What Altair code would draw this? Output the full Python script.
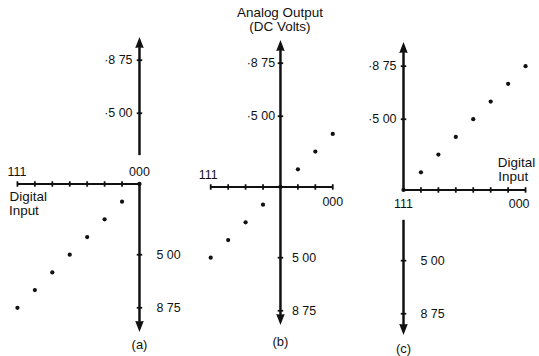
import altair as alt
import pandas as pd

# --- values -------------------------------------------------------------
codes = [0, 1, 2, 3, 4, 5, 6, 7]                      # 000 ... 111
volts_a = [0.0, -1.25, -2.50, -3.75, -5.00, -6.25, -7.50, -8.75]
volts_b = [3.75, 2.50, 1.25, 0.0, -1.25, -2.50, -3.75, -5.00]
volts_c = [8.75, 7.50, 6.25, 5.00, 3.75, 2.50, 1.25, 0.0]

tick_volts = [5.00, 8.75]
pos_tick_labels = ["·5 00", "·8 75"]
neg_tick_labels = ["5 00", "8 75"]
code_names = {0: "000", 7: "111"}
input_title = ["Digital", "Input"]
output_title = ["Analog Output", "(DC Volts)"]
panel_names = ["(a)", "(b)", "(c)"]

FONT = "Liberation Sans"
INK = "#111111"
PX_PER_CODE = 17.5
PX_PER_VOLT = 14.2
HEAD = 0.45  # arrow-head centre sits this far (in volts) inside the tip


def panel(volts, origin, x_dom, y_dom, width, segments, tips, texts):
    xs = alt.Scale(domain=x_dom, reverse=True, nice=False, zero=False)
    ys = alt.Scale(domain=y_dom, nice=False, zero=False)

    def X(f="c"):
        return alt.X(f"{f}:Q", scale=xs, axis=None)

    def Y(f="v"):
        return alt.Y(f"{f}:Q", scale=ys, axis=None)

    # axis lines: horizontal code axis plus the analog-output segments
    seg_rows = [{"c": 0, "v": 0, "c2": 7, "v2": 0, "w": 2.1}]
    for lo, hi in segments:
        seg_rows.append({"c": origin, "v": lo, "c2": origin, "v2": hi, "w": 2.5})
    lines = alt.Chart(pd.DataFrame(seg_rows)).mark_rule(color=INK).encode(
        x=X(), y=Y(), x2="c2:Q", y2="v2:Q",
        strokeWidth=alt.StrokeWidth("w:Q", scale=None),
    )

    # arrow heads at the open ends of the output axis
    head_rows = []
    for tip in tips:
        if tip > 0:
            head_rows.append({"c": origin, "v": tip - HEAD, "rot": 0})
        else:
            head_rows.append({"c": origin, "v": tip + HEAD, "rot": 180})
    heads = alt.Chart(pd.DataFrame(head_rows)).mark_point(
        shape="M0,-1L0.62,0.6L0,0.5L-0.62,0.6Z",
        filled=True, color=INK, size=190, opacity=1,
    ).encode(x=X(), y=Y(), angle=alt.Angle("rot:Q", scale=None))

    # tick marks on the code axis
    xt = pd.DataFrame({"c": [k for k in codes if k != origin], "v": 0.0})
    xticks = alt.Chart(xt).mark_point(
        shape="M0,-1L0,1", color=INK, strokeWidth=1.8, size=30, opacity=1,
    ).encode(x=X(), y=Y())

    # tick marks on the volt axis
    vt = pd.DataFrame({"c": origin, "v": tick_volts + [-t for t in tick_volts]})
    vticks = alt.Chart(vt).mark_point(
        shape="M-1,0L1,0", color=INK, strokeWidth=1.8, size=30, opacity=1,
    ).encode(x=X(), y=Y())

    # transfer-function points
    pts = pd.DataFrame({"c": codes, "v": volts})
    dots = alt.Chart(pts).mark_circle(color=INK, size=18, opacity=1).encode(
        x=X(), y=Y()
    )

    layers = [lines, heads, xticks, vticks, dots]
    for align in ["left", "center", "right"]:
        rows = [t for t in texts if t["align"] == align]
        if not rows:
            continue
        layers.append(
            alt.Chart(pd.DataFrame(rows)).mark_text(
                align=align, baseline="middle", font=FONT, color=INK,
            ).encode(
                x=X(), y=Y(), text="t:N",
                size=alt.Size("fs:Q", scale=None),
            )
        )
    return alt.layer(*layers).properties(width=width, height=356)


def txt(t, c, v, align="center", fs=12.5):
    return {"t": t, "c": c, "v": v, "align": align, "fs": fs}


def dom(origin_px, width, origin_py, height=356):
    """Scale domains for a panel whose code 000 sits at origin_px and 0 V at origin_py."""
    x_dom = [(origin_px - width) / PX_PER_CODE, origin_px / PX_PER_CODE]
    y_dom = [-(height - origin_py) / PX_PER_VOLT, origin_py / PX_PER_VOLT]
    return x_dom, y_dom


def vlabels(c_pos, align_pos, c_neg):
    out = []
    for t, lab in zip(tick_volts, pos_tick_labels):
        out.append(txt(lab, c_pos, t, align_pos))
    for t, lab in zip(tick_volts, neg_tick_labels):
        out.append(txt(lab, c_neg, -t, "left"))
    return out


# (a) output goes negative, code axis runs to the left
xa, ya = dom(140, 180, 184)
pa = panel(
    volts_a, 0, xa, ya, 180,
    segments=[(2.04, 10.35 - HEAD), (0.0, -10.42 + HEAD)],
    tips=[10.35, -10.42],
    texts=vlabels(0.4, "right", -0.97) + [
        txt(code_names[7], 7.03, 0.85),
        txt(code_names[0], 0.0, 0.85),
        txt(input_title[0], 6.38, -0.92, fs=13.5),
        txt(input_title[1], 6.63, -1.90, fs=13.5),
        txt(panel_names[0], 0.0, -11.41, fs=13),
    ],
)

# (b) offset output, zero volts at code 011
xb, yb = dom(152, 180, 187)
pb = panel(
    volts_b, 3, xb, yb, 180,
    segments=[(-9.72 + HEAD, 10.35 - HEAD)],
    tips=[10.35, -9.72],
    texts=vlabels(3.31, "right", 2.34) + [
        txt(output_title[0], 3.03, 12.32, fs=13.5),
        txt(output_title[1], 3.03, 11.34, fs=13.5),
        txt(code_names[7], 7.14, 0.85),
        txt(code_names[0], 0.0, -1.06),
        txt(panel_names[1], 3.0, -10.99, fs=13),
    ],
)

# (c) output goes positive, zero volts at code 111
xc, yc = dom(165.5, 179, 190)
pc = panel(
    volts_c, 7, xc, yc, 179,
    segments=[(0.0, 10.42 - HEAD), (-2.11, -10.21 + HEAD)],
    tips=[10.42, -10.21],
    texts=vlabels(7.4, "right", 6.03) + [
        txt(input_title[0], 0.52, 1.90, fs=13.5),
        txt(input_title[1], 0.71, 0.92, fs=13.5),
        txt(code_names[7], 7.0, -0.99),
        txt(code_names[0], 0.37, -0.99),
        txt(panel_names[2], 7.0, -11.27, fs=13),
    ],
)

chart = (
    alt.hconcat(pa, pb, pc, spacing=0)
    .properties(padding=0, background="white")
    .configure_view(strokeWidth=0)
)

chart.save("out.html", embed_options={"renderer": "svg", "actions": False})
